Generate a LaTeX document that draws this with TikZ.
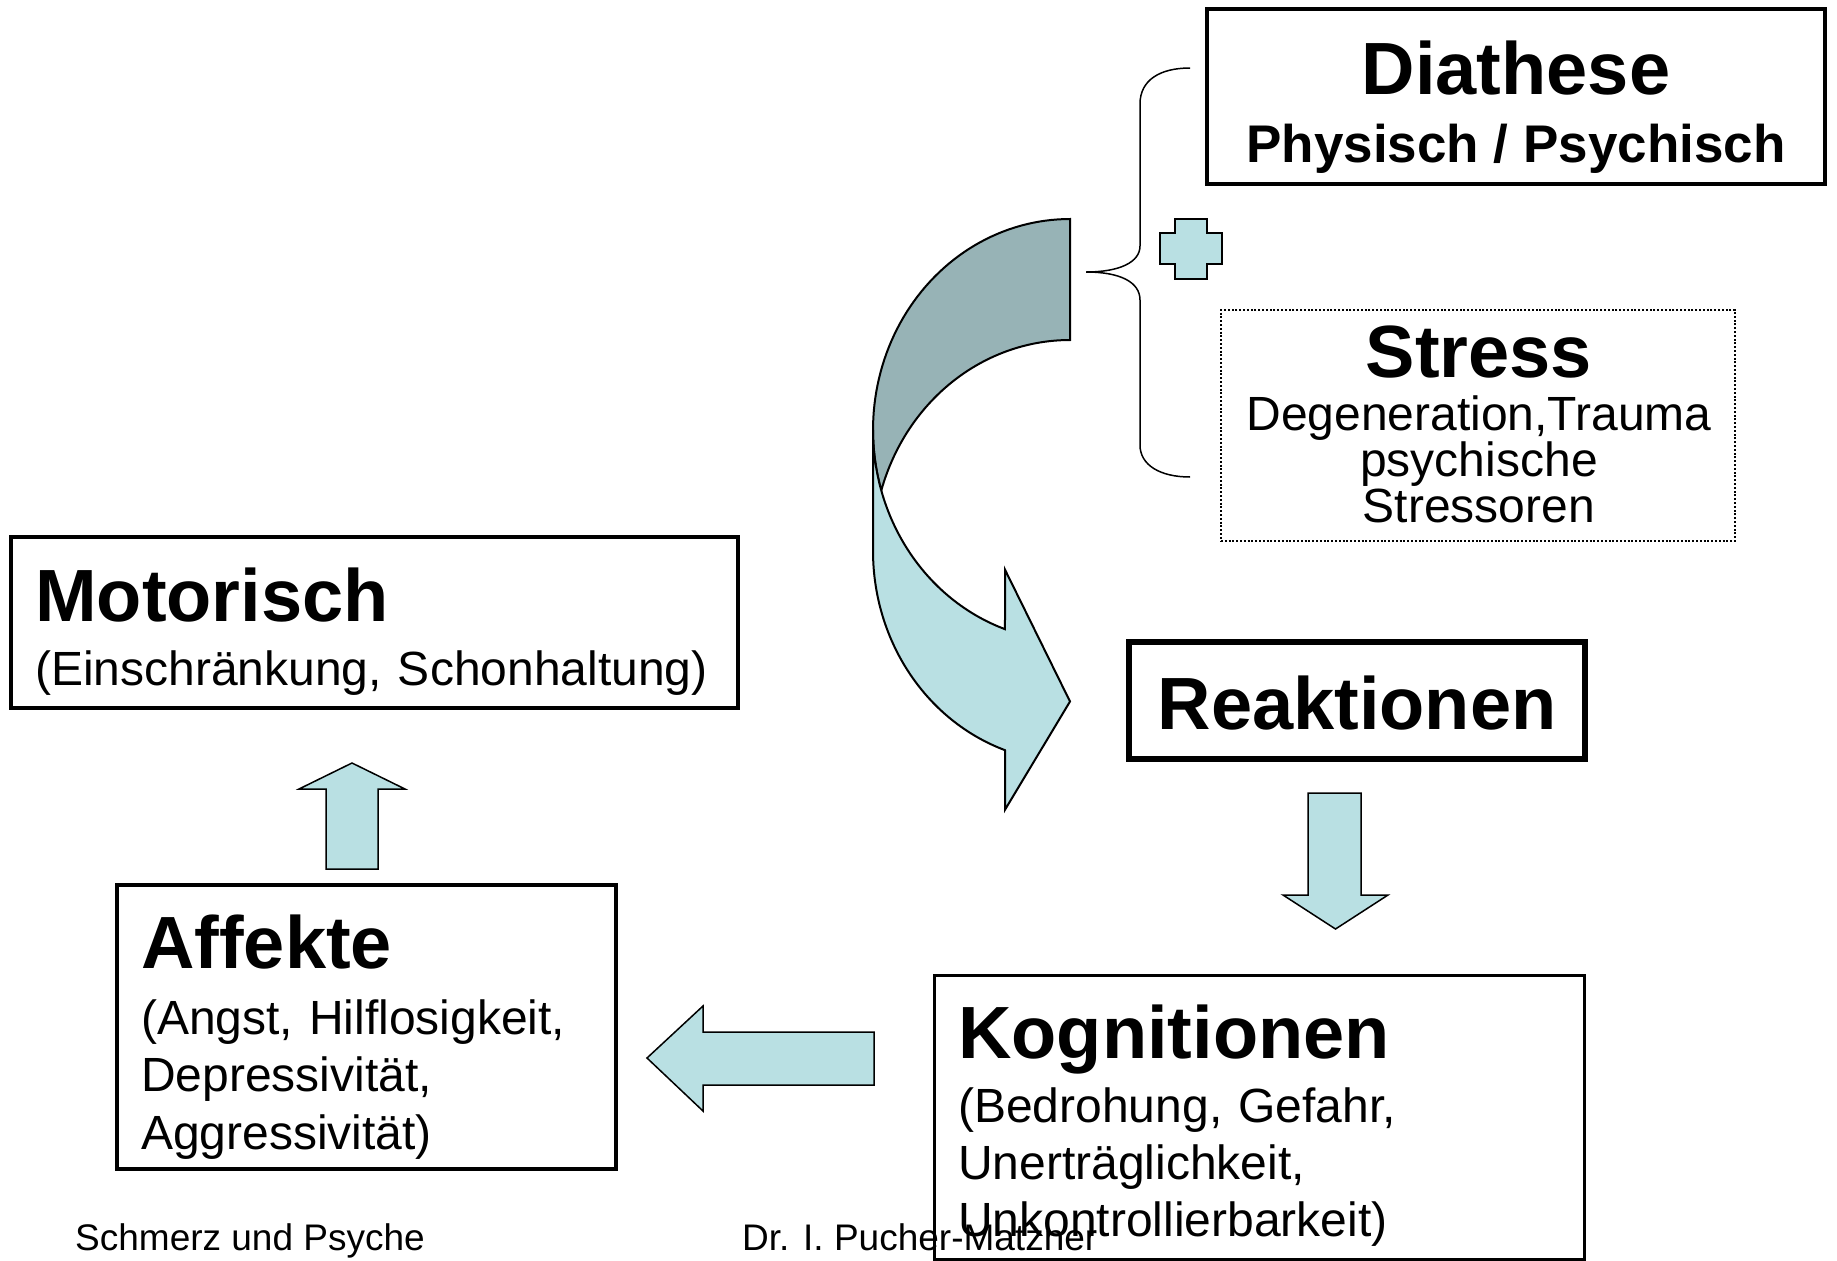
\documentclass[tikz,border=0pt]{standalone}
\usepackage{fontspec}
\setmainfont{Liberation Sans}
\definecolor{arrowlight}{HTML}{B9E0E3}
\definecolor{arrowdark}{HTML}{97B3B6}

\begin{document}
\begin{tikzpicture}[
    x=1pt, y=-1pt,
    box/.style={draw, line width=#1, inner sep=0pt},
    title/.style={font=\fontsize{74}{74}\selectfont\bfseries, inner sep=0pt},
    sub/.style={font=\fontsize{48}{#1}\selectfont, inner sep=0pt, text width=760pt, align=left},
    footer/.style={font=\fontsize{37}{37}\selectfont, inner sep=0pt, anchor=base west},
    blockarrow/.style={draw, line width=1.5pt, fill=arrowlight, line join=miter},
]
\useasboundingbox (0,0) rectangle (1837,1261);

% boxes
\node[box=4pt, minimum width=618pt, minimum height=175pt] (diath) at (1516,96.5) {};
\node[box=1.8pt, dash pattern=on 2pt off 1.8pt, minimum width=514pt, minimum height=231pt] (stress) at (1478,425.5) {};
\node[box=4pt, minimum width=727pt, minimum height=171pt] (motor) at (374.5,622.5) {};
\node[box=6pt, minimum width=456pt, minimum height=117pt] (react) at (1357,700.5) {};
\node[box=4pt, minimum width=499pt, minimum height=284pt] (affect) at (366.5,1027) {};
\node[box=3pt, minimum width=650pt, minimum height=284pt] (cogn) at (1259,1117) {};

% texts
\node[title, anchor=base] (diathT) at (1516,94) {Diathese};
\node[title, font=\fontsize{53}{53}\selectfont\bfseries, anchor=base] (diathS) at (1516,162) {Physisch / Psychisch};
\node[title, anchor=base] (stressT) at (1479,377) {Stress};
\node[sub=46, text width=500pt, align=center, anchor=base] (stressS) at (1479,430) {Degeneration,Trauma\\psychische\\Stressoren};
\node[title, anchor=base west] (motorT) at (35,621) {Motorisch};
\node[sub=57, anchor=base west] (motorS) at (35,685) {(Einschränkung, Schonhaltung)};
\node[title, anchor=base] (reactT) at (1357,729) {Reaktionen};
\node[title, anchor=base west] (affectT) at (141,968) {Affekte};
\node[sub=57.5, anchor=base west] (affectS) at (141,1034) {(Angst, Hilflosigkeit,\\Depressivität,\\Aggressivität)};
\node[title, anchor=base west] (cognT) at (958,1058) {Kognitionen};
\node[sub=57, anchor=base west] (cognS) at (958,1122) {(Bedrohung, Gefahr,\\Unerträglichkeit,\\Unkontrollierbarkeit)};

% footer
\node[footer] (foot1) at (75,1250) {Schmerz und Psyche};
\node[footer] (foot2) at (742,1250) {Dr. I. Pucher-Matzner};

% curved arrow: back side, then front side
\draw[line width=2pt, fill=arrowdark]
  plot[domain=270:163.34, samples=60] ({1070+197*cos(\x)},{430+211*sin(\x)})
  -- plot[domain=196.66:270, samples=60] ({1070+197*cos(\x)},{551+211*sin(\x)}) -- cycle;
\draw[line width=2pt, fill=arrowlight, line join=miter]
  plot[domain=180:109.27, samples=60] ({1070+197*cos(\x)},{430+211*sin(\x)})
  -- (1005,569.7) -- (1070,701.5) -- (1005,809.7) -- (1005,750.2)
  -- plot[domain=109.27:180, samples=60] ({1070+197*cos(\x)},{551+211*sin(\x)}) -- cycle;

% brace
\draw[line width=1.5pt] (1190,68) .. controls (1160,68) and (1140,80) .. (1140,104) -- (1140,246)
  .. controls (1140,262) and (1120,272) .. (1086,272)
  .. controls (1120,272) and (1140,282) .. (1140,300) -- (1140,445)
  .. controls (1140,465) and (1160,477) .. (1190,477);

% plus
\draw[blockarrow] (1175,219) -- (1207,219) -- (1207,233) -- (1222,233) -- (1222,264) -- (1207,264)
  -- (1207,279) -- (1175,279) -- (1175,264) -- (1160,264) -- (1160,233) -- (1175,233) -- cycle;

% block arrows
\draw[blockarrow] (1335.5,929) -- (1388,895) -- (1361,895) -- (1361,793) -- (1308,793) -- (1308,895) -- (1283,895) -- cycle;
\draw[blockarrow] (647,1058) -- (703,1006) -- (703,1032) -- (874,1032) -- (874,1085) -- (703,1085) -- (703,1111) -- cycle;
\draw[blockarrow] (352,763) -- (405,789) -- (378,789) -- (378,869) -- (326,869) -- (326,789) -- (299,789) -- cycle;
\end{tikzpicture}
\end{document}
